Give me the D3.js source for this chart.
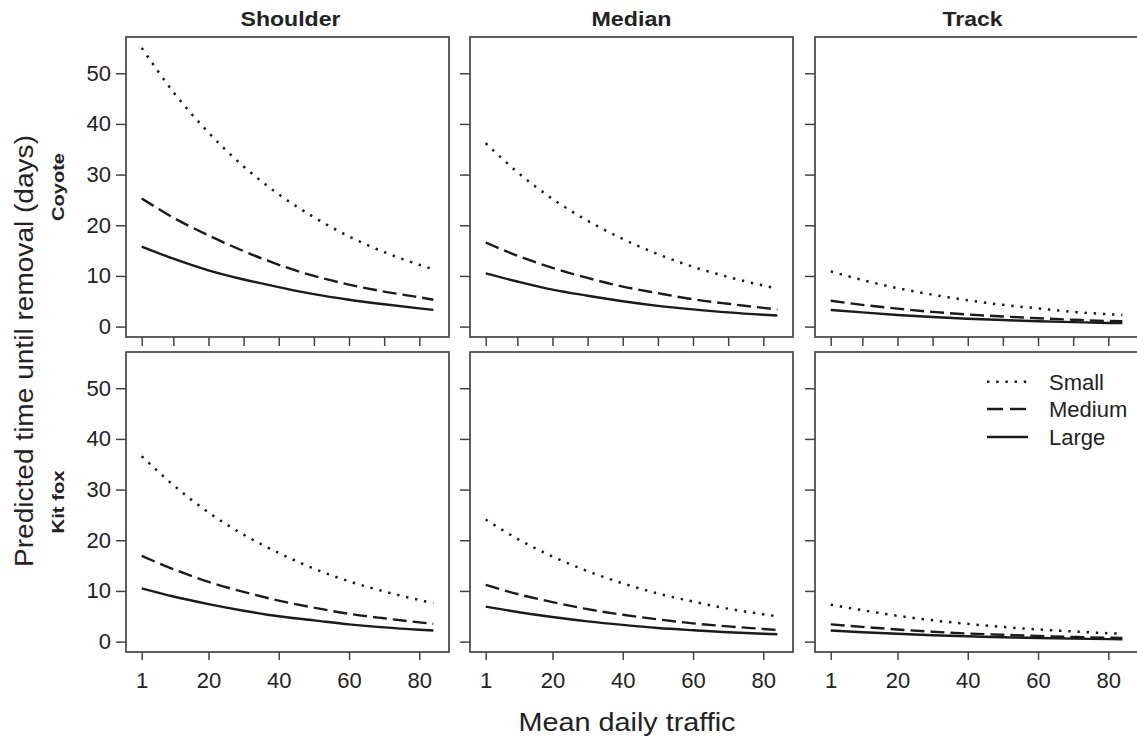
<!DOCTYPE html>
<html>
<head>
<meta charset="utf-8">
<script src="https://cdn.jsdelivr.net/npm/d3@7"></script>
<style>
  html, body { margin: 0; padding: 0; background: #fff; }
  svg { display: block; }
  text { font-family: "Liberation Sans", Arial, Helvetica, sans-serif; fill: #222; }
</style>
</head>
<body>
<svg id="chart" width="1137" height="737"></svg>
<script>
// ---------- data ----------
const traffic = [1, 10, 20, 30, 40, 50, 60, 70, 80, 84];
const locations = ["Shoulder", "Median", "Track"];
const species = ["Coyote", "Kit fox"];
const sizes = ["Small", "Medium", "Large"];
const yTicks = [0, 10, 20, 30, 40, 50];
const xTicksTop = [1, 10, 20, 30, 40, 50, 60, 70, 80];
const xTicksBottom = [1, 20, 40, 60, 80];

// Coyote
const coyoteShoulderSmall  = [55.0, 46.3, 38.3, 31.6, 26.1, 21.6, 17.8, 14.7, 12.2, 11.3];
const coyoteShoulderMedium = [25.3, 21.5, 18.0, 14.9, 12.2, 10.0, 8.3, 6.9, 5.8, 5.3];
const coyoteShoulderLarge  = [15.8, 13.4, 11.1, 9.3, 7.8, 6.4, 5.3, 4.4, 3.6, 3.3];
const coyoteMedianSmall    = [36.2, 30.5, 25.2, 20.9, 17.3, 14.3, 11.8, 9.8, 8.1, 7.5];
const coyoteMedianMedium   = [16.6, 14.0, 11.6, 9.6, 7.9, 6.6, 5.4, 4.5, 3.7, 3.4];
const coyoteMedianLarge    = [10.5, 8.9, 7.3, 6.1, 5.0, 4.1, 3.4, 2.8, 2.35, 2.2];
const coyoteTrackSmall     = [10.9, 9.2, 7.6, 6.3, 5.2, 4.3, 3.6, 2.9, 2.45, 2.3];
const coyoteTrackMedium    = [5.1, 4.3, 3.55, 2.9, 2.4, 2.0, 1.65, 1.35, 1.1, 1.05];
const coyoteTrackLarge     = [3.3, 2.8, 2.3, 1.9, 1.55, 1.3, 1.05, 0.88, 0.72, 0.68];
// Kit fox
const kitfoxShoulderSmall  = [36.6, 30.9, 25.5, 21.1, 17.5, 14.4, 11.9, 9.9, 8.2, 7.6];
const kitfoxShoulderMedium = [16.9, 14.3, 11.8, 9.8, 8.1, 6.7, 5.5, 4.6, 3.8, 3.5];
const kitfoxShoulderLarge  = [10.5, 8.9, 7.4, 6.1, 5.0, 4.2, 3.4, 2.8, 2.35, 2.2];
const kitfoxMedianSmall    = [24.1, 20.3, 16.8, 13.9, 11.5, 9.5, 7.9, 6.5, 5.4, 5.0];
const kitfoxMedianMedium   = [11.2, 9.4, 7.8, 6.4, 5.3, 4.4, 3.6, 3.0, 2.5, 2.3];
const kitfoxMedianLarge    = [6.9, 5.85, 4.85, 4.0, 3.3, 2.7, 2.25, 1.85, 1.55, 1.45];
const kitfoxTrackSmall     = [7.3, 6.2, 5.1, 4.2, 3.5, 2.9, 2.4, 2.0, 1.65, 1.55];
const kitfoxTrackMedium    = [3.4, 2.9, 2.4, 1.95, 1.6, 1.35, 1.1, 0.92, 0.76, 0.71];
const kitfoxTrackLarge     = [2.2, 1.85, 1.55, 1.25, 1.05, 0.86, 0.71, 0.59, 0.49, 0.46];

const panelData = [
  [ [coyoteShoulderSmall, coyoteShoulderMedium, coyoteShoulderLarge],
    [coyoteMedianSmall, coyoteMedianMedium, coyoteMedianLarge],
    [coyoteTrackSmall, coyoteTrackMedium, coyoteTrackLarge] ],
  [ [kitfoxShoulderSmall, kitfoxShoulderMedium, kitfoxShoulderLarge],
    [kitfoxMedianSmall, kitfoxMedianMedium, kitfoxMedianLarge],
    [kitfoxTrackSmall, kitfoxTrackMedium, kitfoxTrackLarge] ]
];

// ---------- layout ----------
const colLeft = [126, 470, 815];
const rowTop = [37, 352];
const pw = 323, ph = 300;
const ink = "#1a1a1a";
const frame = "#444";
const lineStyles = [
  { dash: "2.4,6.8", width: 2.5 },
  { dash: "14,6", width: 2.4 },
  { dash: null, width: 2.4 }
];

const svg = d3.select("#chart");

const x = d3.scaleLinear().domain([-3.47, 88.45]).range([0, pw]);
const y = d3.scaleLinear().domain([-2.05, 57.15]).range([ph, 0]);

const line = d3.line()
  .x((d, i) => x(traffic[i]))
  .y(d => y(d))
  .curve(d3.curveMonotoneX);

species.forEach((sp, r) => {
  locations.forEach((loc, c) => {
    const g = svg.append("g").attr("transform", `translate(${colLeft[c]},${rowTop[r]})`);

    // y axis
    const ya = d3.axisLeft(y).tickValues(yTicks).tickSize(10).tickPadding(5)
      .tickFormat(c === 0 ? d3.format("d") : () => "");
    const yg = g.append("g").call(ya);
    yg.select(".domain").remove();
    yg.selectAll("line").attr("stroke", frame).attr("stroke-width", 1.5);
    yg.selectAll("text").style("font-size", "22px").attr("fill", ink);

    // x axis
    const xa = d3.axisBottom(x)
      .tickValues(r === 0 ? xTicksTop : xTicksBottom)
      .tickSize(r === 0 ? 9 : 8).tickPadding(12)
      .tickFormat(r === 0 ? () => "" : d3.format("d"));
    const xg = g.append("g").attr("transform", `translate(0,${ph})`).call(xa);
    xg.select(".domain").remove();
    xg.selectAll("line").attr("stroke", frame).attr("stroke-width", 1.5);
    xg.selectAll("text").style("font-size", "22px").attr("fill", ink);

    // frame
    g.append("rect").attr("x", 0).attr("y", 0).attr("width", pw).attr("height", ph)
      .attr("fill", "none").attr("stroke", frame).attr("stroke-width", 1.7);

    // lines
    panelData[r][c].forEach((vals, k) => {
      g.append("path").datum(vals)
        .attr("d", line)
        .attr("fill", "none")
        .attr("stroke", ink)
        .attr("stroke-width", lineStyles[k].width)
        .attr("stroke-dasharray", lineStyles[k].dash)
        .attr("stroke-linecap", "butt");
    });
  });
});

// strip labels
const stripWidths = [100, 80, 60];
locations.forEach((loc, c) => {
  svg.append("text")
    .attr("x", colLeft[c] + pw / 2 + (c === 0 ? 3 : (c === 2 ? -4 : 0)))
    .attr("y", 26)
    .attr("text-anchor", "middle")
    .attr("font-weight", "bold")
    .style("font-size", "21px")
    .attr("textLength", stripWidths[c])
    .attr("lengthAdjust", "spacingAndGlyphs")
    .text(loc);
});

// row labels
const rowLabelLen = [68, 63];
species.forEach((sp, r) => {
  const cy = rowTop[r] + ph / 2;
  svg.append("text")
    .attr("transform", `translate(64,${cy}) rotate(-90)`)
    .attr("text-anchor", "middle")
    .attr("font-weight", "bold")
    .style("font-size", "17px")
    .attr("textLength", rowLabelLen[r])
    .attr("lengthAdjust", "spacingAndGlyphs")
    .text(sp);
});

// axis titles
svg.append("text")
  .attr("transform", `translate(33,351) rotate(-90)`)
  .attr("text-anchor", "middle")
  .style("font-size", "25px")
  .attr("textLength", 432)
  .attr("lengthAdjust", "spacingAndGlyphs")
  .text("Predicted time until removal (days)");

svg.append("text")
  .attr("x", 627)
  .attr("y", 731)
  .attr("text-anchor", "middle")
  .style("font-size", "25px")
  .attr("textLength", 217)
  .attr("lengthAdjust", "spacingAndGlyphs")
  .text("Mean daily traffic");

// legend (inside bottom-right panel)
const legendRows = [381.7, 409, 437];
const lg = svg.append("g");
sizes.forEach((s, k) => {
  lg.append("line")
    .attr("x1", 987).attr("x2", 1028)
    .attr("y1", legendRows[k]).attr("y2", legendRows[k])
    .attr("stroke", ink)
    .attr("stroke-width", lineStyles[k].width)
    .attr("stroke-dasharray", k === 0 ? "2.4,6.8" : (k === 1 ? "16,7" : null));
  lg.append("text")
    .attr("x", 1049).attr("y", legendRows[k])
    .attr("dy", "0.36em")
    .style("font-size", "22px")
    .text(s);
});
</script>
</body>
</html>
